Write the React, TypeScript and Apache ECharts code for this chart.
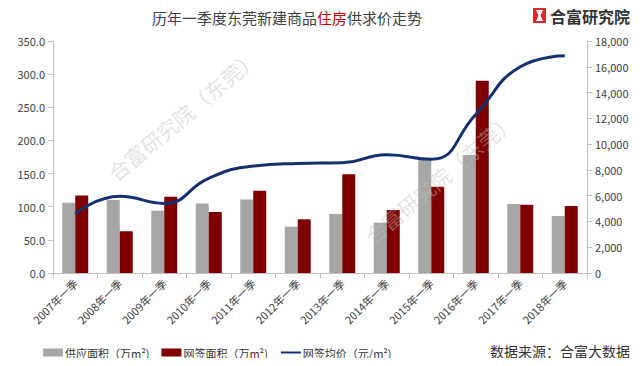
import React, { useEffect, useRef } from "react";
import * as echarts from "echarts";

const categories = ["2007年一季", "2008年一季", "2009年一季", "2010年一季", "2011年一季", "2012年一季", "2013年一季", "2014年一季", "2015年一季", "2016年一季", "2017年一季", "2018年一季"];
const supplyArea = [106, 110, 94, 105, 111, 70, 89, 76, 170, 178, 104, 86];
const signedArea = [117, 63, 115, 92, 124, 81, 149, 95, 130, 290, 103, 101];
const avgPrice = [4600, 5950, 5400, 7350, 8300, 8500, 8550, 9180, 8820, 12300, 16000, 16850];

const FONT = "'Noto Sans CJK SC', 'Noto Sans', sans-serif";

export default function App() {
  const ref = useRef<HTMLDivElement>(null);
  useEffect(() => {
    const chart = echarts.init(ref.current!, null, { renderer: "svg" });
    chart.setOption({
      animation: false,
      textStyle: { fontFamily: FONT },
      grid: { left: 53, right: 53, top: 41, bottom: 93 },
      title: {
        text: "{a|历年一季度东莞新建商品}{r|住房}{a|供求价走势}",
        left: 147,
        top: 5,
        textStyle: {
          fontWeight: "normal",
          rich: {
            a: { fontSize: 15, color: "#404040", fontFamily: FONT, fontWeight: "normal" },
            r: { fontSize: 15, color: "#c00000", fontFamily: FONT, fontWeight: "normal" },
          },
        },
      },
      legend: {
        left: 38,
        top: 342,
        itemWidth: 20,
        itemHeight: 8,
        itemGap: 12,
        textStyle: { fontSize: 11, color: "#333333", fontFamily: FONT, padding: [0, 0, 0, -3] },
        data: [
          { name: "供应面积（万m²)", icon: "rect" },
          { name: "网签面积（万m²)", icon: "rect" },
          { name: "网签均价（元/m²)", itemStyle: { opacity: 0 } },
        ],
      },
      xAxis: {
        type: "category",
        data: categories,
        axisLine: { lineStyle: { color: "#bfbfbf" } },
        axisTick: { show: true, lineStyle: { color: "#bfbfbf" } },
        axisLabel: { rotate: 45, fontSize: 11, color: "#404040", margin: 8, interval: 0 },
      },
      yAxis: [
        {
          type: "value",
          min: 0,
          max: 350,
          interval: 50,
          axisLine: { show: true, lineStyle: { color: "#bfbfbf" } },
          axisTick: { show: true, lineStyle: { color: "#bfbfbf" } },
          splitLine: { show: false },
          axisLabel: { fontSize: 11, color: "#404040", formatter: (v: number) => v.toFixed(1) },
        },
        {
          type: "value",
          min: 0,
          max: 18000,
          interval: 2000,
          position: "right",
          axisLine: { show: true, lineStyle: { color: "#bfbfbf" } },
          axisTick: { show: true, lineStyle: { color: "#bfbfbf" } },
          splitLine: { show: false },
          axisLabel: { fontSize: 11, color: "#404040" },
        },
      ],
      series: [
        {
          name: "供应面积（万m²)",
          type: "bar",
          data: supplyArea,
          barWidth: 13,
          barGap: "0%",
          itemStyle: { color: "#a6a6a6" },
        },
        {
          name: "网签面积（万m²)",
          type: "bar",
          data: signedArea,
          barWidth: 13,
          barGap: "0%",
          itemStyle: { color: "#7f0000" },
        },
        {
          name: "网签均价（元/m²)",
          type: "line",
          yAxisIndex: 1,
          data: avgPrice,
          smooth: true,
          symbol: "none",
          lineStyle: { width: 3, color: "#14306e" },
          itemStyle: { color: "#14306e" },
          z: 5,
        },
      ],
      graphic: [
        {
          type: "text",
          x: 183,
          y: 115,
          rotation: 0.7,
          z: 10,
          style: {
            text: "合富研究院（东莞）",
            fontSize: 21,
            fontFamily: FONT,
            fill: "rgba(190,190,190,0.45)",
            align: "center",
            verticalAlign: "middle",
          },
        },
        {
          type: "text",
          x: 440,
          y: 178,
          rotation: 0.7,
          z: 10,
          style: {
            text: "合富研究院（东莞）",
            fontSize: 21,
            fontFamily: FONT,
            fill: "rgba(190,190,190,0.45)",
            align: "center",
            verticalAlign: "middle",
          },
        },
        {
          type: "rect",
          shape: { x: 533, y: 8, width: 13, height: 15 },
          style: { fill: "#e0242b" },
        },
        {
          type: "polygon",
          shape: { points: [[536, 10], [543, 10], [540.5, 15.5], [543, 21], [536, 21], [538.5, 15.5]] },
          style: { fill: "#ffffff" },
        },
        {
          type: "text",
          x: 550,
          y: 15.5,
          style: {
            text: "合富研究院",
            fontSize: 16,
            fontWeight: "bold",
            fontFamily: FONT,
            fill: "#333333",
            verticalAlign: "middle",
          },
        },
        {
          type: "text",
          right: 10,
          top: 344,
          style: {
            text: "数据来源：合富大数据",
            fontSize: 14,
            fontFamily: FONT,
            fill: "#333333",
          },
        },
      ],
    });
    return () => chart.dispose();
  }, []);
  return <div ref={ref} style={{ width: 640, height: 366, margin: -8 }} />;
}
